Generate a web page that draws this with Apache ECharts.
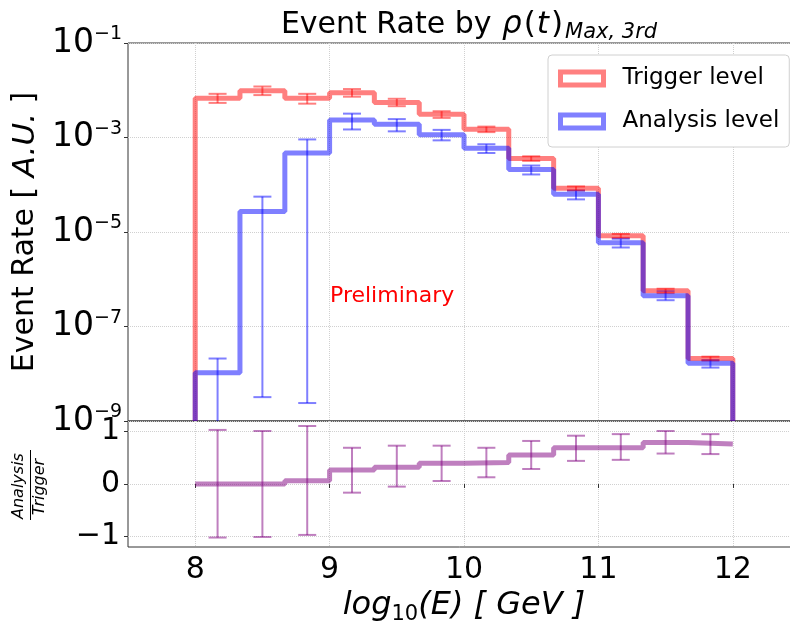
<!DOCTYPE html>
<html>
<head>
<meta charset="utf-8">
<script src="https://cdn.jsdelivr.net/npm/echarts@6/dist/echarts.min.js"></script>
<style>
  html, body { margin: 0; padding: 0; background: #fff; }
  #chart { width: 790px; height: 631px; }
</style>
</head>
<body>
<div id="chart"></div>
<script>
// histogram bin edges in log10(E / GeV)
const binEdges = [8, 8.333, 8.667, 9, 9.333, 9.667, 10, 10.333, 10.667, 11, 11.333, 11.667, 12];

// trigger level event rate + error bar ends
const triggerRate = [6.8e-3, 9.8e-3, 6.8e-3, 8.9e-3, 5.5e-3, 3.1e-3, 1.5e-3, 3.6e-4, 8.4e-5, 8.3e-6, 5.7e-7, 2.1e-8];
const triggerLow  = [5.4e-3, 7.9e-3, 5.2e-3, 7.3e-3, 4.6e-3, 2.6e-3, 1.3e-3, 3.2e-4, 7.6e-5, 7.5e-6, 5.1e-7, 1.9e-8];
const triggerHigh = [8.4e-3, 1.2e-2, 8.4e-3, 1.06e-2, 6.6e-3, 3.6e-3, 1.7e-3, 4.0e-4, 9.2e-5, 9.1e-6, 6.3e-7, 2.3e-8];

// analysis level event rate + error bar ends
const analysisRate = [1.05e-8, 2.7e-5, 4.7e-4, 2.35e-3, 1.9e-3, 1.15e-3, 5.9e-4, 2.1e-4, 6.3e-5, 5.9e-6, 4.5e-7, 1.66e-8];
const analysisLow  = [0, 3.2e-9, 2.4e-9, 1.48e-3, 1.35e-3, 8.7e-4, 4.7e-4, 1.65e-4, 4.9e-5, 4.7e-6, 3.6e-7, 1.35e-8];
const analysisHigh = [2.1e-8, 5.6e-5, 9.1e-4, 3.2e-3, 2.45e-3, 1.45e-3, 7.2e-4, 2.55e-4, 7.5e-5, 7.2e-6, 5.6e-7, 1.95e-8];

// ratio panel
const ratio     = [0, 0, 0.063, 0.267, 0.318, 0.394, 0.41, 0.552, 0.69, 0.69, 0.79, 0.76];
const ratioLow  = [-1.02, -1.01, -0.97, -0.165, -0.05, 0.057, 0.128, 0.286, 0.44, 0.46, 0.58, 0.57];
const ratioHigh = [1.03, 1.01, 1.105, 0.69, 0.73, 0.73, 0.69, 0.82, 0.92, 0.95, 1.01, 0.95];

// tick labels
const xTicks = [8, 9, 10, 11, 12];
const rateTicks = [1e-9, 1e-7, 1e-5, 1e-3, 1e-1];
const ratioTicks = [-1, 0, 1];

const RATE_MIN = 1e-9;
const RATE_MAX = 1e-1;

const RED = 'rgba(255,0,0,0.5)';
const BLUE = 'rgba(0,0,255,0.5)';
const PURPLE = 'rgba(128,0,128,0.5)';
const FONT = 'DejaVu Sans';

const chart = echarts.init(document.getElementById('chart'));

function stepPoints(values, floor) {
  const pts = [];
  const last = binEdges.length - 1;
  if (floor != null) pts.push([binEdges[0], floor]);
  values.forEach((v, i) => pts.push([binEdges[i], v]));
  pts.push([binEdges[last], values[values.length - 1]]);
  if (floor != null) pts.push([binEdges[last], floor]);
  return pts;
}

function stepSeries(name, values, color, idx, floor) {
  return {
    name: name,
    type: 'line',
    step: 'end',
    xAxisIndex: idx,
    yAxisIndex: idx,
    data: stepPoints(values, floor),
    symbol: 'none',
    silent: true,
    lineStyle: { color: color, width: 5 },
    itemStyle: { color: color },
  };
}

function errorBarSeries(name, low, high, color, idx, floor) {
  return {
    name: name,
    type: 'custom',
    xAxisIndex: idx,
    yAxisIndex: idx,
    silent: true,
    data: low.map((l, i) => [(binEdges[i] + binEdges[i + 1]) / 2, l, high[i]]),
    encode: { x: 0, y: [1, 2] },
    renderItem: (params, api) => {
      const x = api.value(0);
      const lo = api.value(1);
      const clipped = lo < floor;
      const top = api.coord([x, api.value(2)]);
      const bot = api.coord([x, clipped ? floor : lo]);
      const style = { stroke: color, lineWidth: 2 };
      const children = [
        { type: 'line', shape: { x1: top[0], y1: top[1], x2: bot[0], y2: bot[1] }, style: style },
        { type: 'line', shape: { x1: top[0] - 9, y1: top[1], x2: top[0] + 9, y2: top[1] }, style: style },
      ];
      if (!clipped) {
        children.push({ type: 'line', shape: { x1: bot[0] - 9, y1: bot[1], x2: bot[0] + 9, y2: bot[1] }, style: style });
      }
      return { type: 'group', children: children };
    },
  };
}

const splitLine = { show: true, lineStyle: { color: '#d0d0d0', type: 'dotted', width: 1 } };
const tick = { show: true, inside: false, length: 4, lineStyle: { color: '#333' } };

const option = {
  animation: false,
  textStyle: { fontFamily: FONT },
  title: {
    text: '{n|Event Rate by }{i|ρ}{p|(}{i|t}{p|)}{s|Max, 3rd}',
    left: 464,
    top: 2,
    textAlign: 'center',
    textStyle: {
      fontWeight: 'normal',
      rich: {
        n: { fontSize: 30, color: '#000', fontFamily: FONT, fontWeight: 'normal', lineHeight: 36 },
        i: { fontSize: 31, color: '#000', fontFamily: FONT, fontWeight: 'normal', fontStyle: 'italic', lineHeight: 36, padding: [0, 2, 0, 1] },
        p: { fontSize: 31, color: '#000', fontFamily: FONT, fontWeight: 'normal', lineHeight: 36 },
        s: { fontSize: 21, color: '#000', fontFamily: FONT, fontWeight: 'normal', fontStyle: 'italic', verticalAlign: 'bottom', lineHeight: 18, padding: [0, 0, 0, 2] },
      },
    },
  },
  legend: {
    orient: 'vertical',
    left: 548,
    top: 55,
    padding: [12, 10, 14, 10],
    itemWidth: 43,
    itemHeight: 13,
    itemGap: 20,
    backgroundColor: '#fff',
    borderColor: '#d0d0d0',
    borderWidth: 1,
    borderRadius: 4,
    selectedMode: false,
    textStyle: { fontSize: 23, color: '#000', fontFamily: FONT, lineHeight: 13, padding: [0, 0, 0, 14] },
    data: [
      { name: 'Trigger level', icon: 'rect', itemStyle: { color: '#fff', borderColor: '#ff8080', borderWidth: 5 } },
      { name: 'Analysis level', icon: 'rect', itemStyle: { color: '#fff', borderColor: '#8080ff', borderWidth: 5 } },
    ],
  },
  grid: [
    { left: 128, width: 672, top: 43, height: 378, outerBoundsMode: 'none', show: true, borderColor: '#333', borderWidth: 1, backgroundColor: 'transparent' },
    { left: 128, width: 672, top: 421, height: 126, outerBoundsMode: 'none', show: true, borderColor: '#333', borderWidth: 1, backgroundColor: 'transparent' },
  ],
  xAxis: [
    {
      type: 'value', gridIndex: 0, min: 7.5, max: 12.5,
      axisLine: { show: false },
      axisTick: { show: false, customValues: xTicks },
      axisLabel: { show: false, customValues: xTicks },
      splitLine: splitLine,
    },
    {
      type: 'value', gridIndex: 1, min: 7.5, max: 12.5,
      axisLine: { show: false },
      axisTick: Object.assign({ customValues: xTicks }, tick),
      axisLabel: { customValues: xTicks, fontSize: 30, color: '#000', margin: 8, fontFamily: FONT },
      splitLine: splitLine,
      name: '{i|log}{s|10}{i|(E) [ GeV ]}',
      nameLocation: 'middle',
      nameGap: 40,
      nameTextStyle: {
        rich: {
          i: { fontSize: 32, color: '#000', fontFamily: FONT, fontStyle: 'italic', lineHeight: 38 },
          s: { fontSize: 21, color: '#000', fontFamily: FONT, verticalAlign: 'bottom', lineHeight: 19 },
        },
      },
    },
  ],
  yAxis: [
    {
      type: 'log', logBase: 10, gridIndex: 0, min: RATE_MIN, max: RATE_MAX,
      axisLine: { show: false },
      axisTick: Object.assign({ customValues: rateTicks }, tick),
      axisLabel: {
        customValues: rateTicks,
        margin: 6,
        formatter: (v) => '{b|10}{s|−' + Math.round(-Math.log10(v)) + '}',
        rich: {
          b: { fontSize: 33, color: '#000', fontFamily: FONT, lineHeight: 36 },
          s: { fontSize: 19, color: '#000', fontFamily: FONT, verticalAlign: 'top', lineHeight: 19 },
        },
      },
      splitLine: splitLine,
      minorTick: { show: false },
      name: '{n|Event Rate [ }{i|A.U.}{n| ]}',
      nameLocation: 'middle',
      nameRotate: 90,
      nameGap: 82,
      nameTextStyle: {
        rich: {
          n: { fontSize: 30, color: '#000', fontFamily: FONT },
          i: { fontSize: 31, color: '#000', fontFamily: FONT, fontStyle: 'italic' },
        },
      },
    },
    {
      type: 'value', gridIndex: 1, min: -1.2, max: 1.2,
      axisLine: { show: false },
      axisTick: Object.assign({ customValues: ratioTicks }, tick),
      axisLabel: {
        customValues: ratioTicks, fontSize: 30, color: '#000', margin: 8, fontFamily: FONT,
        formatter: (v) => (v < 0 ? '−' + Math.abs(v) : String(v)),
      },
      splitLine: splitLine,
    },
  ],
  graphic: [
    { type: 'text', x: 330, y: 296, style: { text: 'Preliminary', fill: '#ff0000', font: '22px "DejaVu Sans"', verticalAlign: 'middle' } },
    { type: 'text', x: 19, y: 486, rotation: Math.PI / 2, style: { text: 'Analysis', fill: '#000', font: 'italic 16px "DejaVu Sans"', align: 'center', verticalAlign: 'middle' } },
    { type: 'line', shape: { x1: 30.5, y1: 450, x2: 30.5, y2: 520 }, style: { stroke: '#000', lineWidth: 1 } },
    { type: 'text', x: 40, y: 487, rotation: Math.PI / 2, style: { text: 'Trigger', fill: '#000', font: 'italic 16px "DejaVu Sans"', align: 'center', verticalAlign: 'middle' } },
  ],
  series: [
    stepSeries('Trigger level', triggerRate, RED, 0, RATE_MIN),
    stepSeries('Analysis level', analysisRate, BLUE, 0, RATE_MIN),
    errorBarSeries('Trigger err', triggerLow, triggerHigh, RED, 0, RATE_MIN),
    errorBarSeries('Analysis err', analysisLow, analysisHigh, BLUE, 0, RATE_MIN),
    stepSeries('Ratio', ratio, PURPLE, 1, null),
    errorBarSeries('Ratio err', ratioLow, ratioHigh, PURPLE, 1, -Infinity),
  ],
};

chart.setOption(option);
window.addEventListener('resize', () => chart.resize());
</script>
</body>
</html>
